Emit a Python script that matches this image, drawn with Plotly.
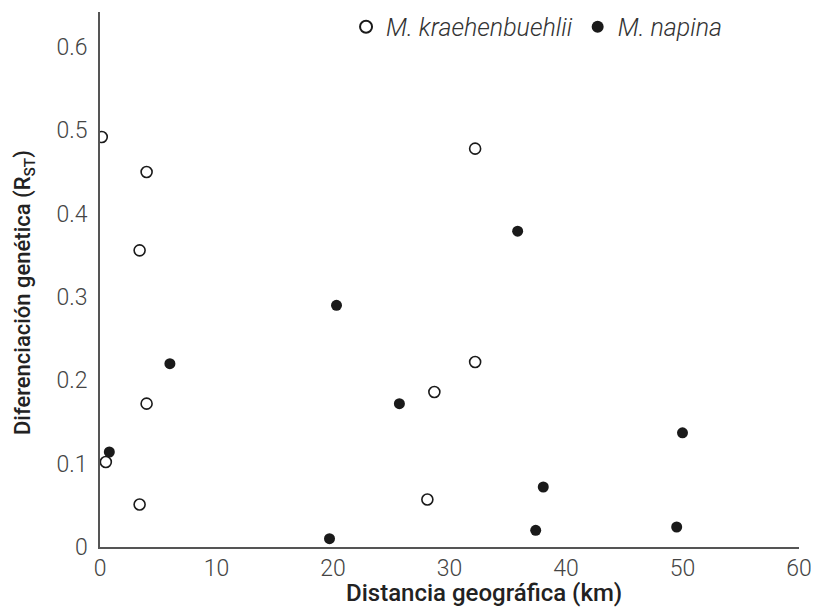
import plotly.graph_objects as go

# M. kraehenbuehlii (open circles)
kra_x = [0.15, 4.0, 3.4, 4.0, 0.5, 3.4, 32.2, 32.2, 28.7, 28.1]
kra_y = [0.492, 0.450, 0.356, 0.172, 0.102, 0.051, 0.478, 0.222, 0.186, 0.057]

# M. napina (filled circles)
nap_x = [0.8, 6.0, 20.3, 35.85, 25.7, 19.7, 38.05, 37.4, 49.5, 50.0]
nap_y = [0.114, 0.220, 0.290, 0.379, 0.172, 0.010, 0.072, 0.020, 0.024, 0.137]

x_ticks = [0, 10, 20, 30, 40, 50, 60]
y_ticks = [0, 0.1, 0.2, 0.3, 0.4, 0.5, 0.6]
y_tick_labels = ["0", "0.1", "0.2", "0.3", "0.4", "0.5", "0.6"]

fig = go.Figure()
fig.add_trace(go.Scatter(
    x=kra_x, y=kra_y, mode="markers", name="M. kraehenbuehlii",
    marker=dict(symbol="circle-open", size=11, color="#1a1a1a", line=dict(width=1.6, color="#1a1a1a")),
))
fig.add_trace(go.Scatter(
    x=nap_x, y=nap_y, mode="markers", name="M. napina",
    marker=dict(symbol="circle", size=11, color="#1a1a1a"),
))

fig.update_layout(
    width=811, height=603,
    margin=dict(l=92, r=20, t=4, b=64, autoexpand=False),
    paper_bgcolor="white", plot_bgcolor="white",
    font=dict(family="Roboto", color="#444444"),
    showlegend=True,
    legend=dict(
        orientation="h", x=0.352, y=0.972, xanchor="left", yanchor="middle",
        font=dict(family="Roboto", size=25, color="#333333", style="italic", weight=300),
        itemsizing="constant", bgcolor="rgba(0,0,0,0)", traceorder="normal",
    ),
    xaxis=dict(
        range=[0, 60], tickvals=x_ticks, showgrid=False, zeroline=False,
        showline=True, linecolor="#555555", linewidth=1.5, ticks="", automargin=False,
        tickfont=dict(family="Roboto", size=23, color="#444444", weight=300),
    ),
    yaxis=dict(
        range=[0, 0.642], tickvals=y_ticks, ticktext=y_tick_labels, showgrid=False,
        zeroline=False, showline=True, linecolor="#555555", linewidth=1.5, ticks="",
        ticklabelstandoff=6, automargin=False,
        tickfont=dict(family="Roboto", size=23, color="#444444", weight=300),
    ),
    annotations=[
        dict(text="Distancia geográfica (km)", xref="paper", yref="paper",
             x=0.549, y=-0.086, showarrow=False, xanchor="center", yanchor="middle",
             font=dict(family="Roboto", size=24, color="#222222", weight=500)),
        dict(text="Diferenciación genética (R<sub>ST</sub>)", xref="paper", yref="paper",
             x=-0.107, y=0.475, showarrow=False, textangle=-90,
             xanchor="center", yanchor="middle",
             font=dict(family="Roboto", size=22, color="#222222", weight=500)),
    ],
)

fig.write_html("out.html")
